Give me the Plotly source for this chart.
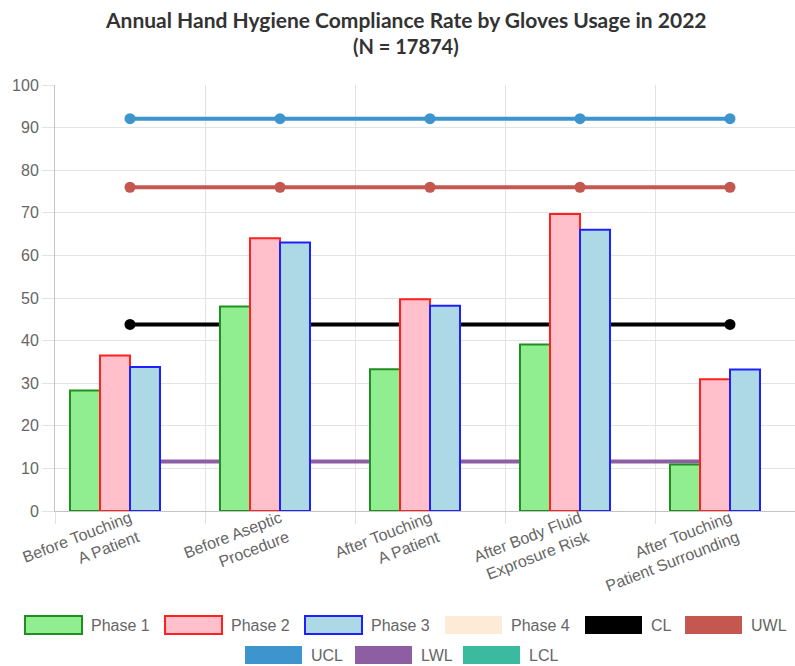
import plotly.graph_objects as go

# ---------------- data ----------------
categories = [
    "Before Touching<br>A Patient",
    "Before Aseptic<br>Procedure",
    "After Touching<br>A Patient",
    "After Body Fluid<br>Exprosure Risk",
    "After Touching<br>Patient Surrounding",
]
phase1 = [28.3, 48.0, 33.3, 39.1, 10.9]
phase2 = [36.5, 64.0, 49.7, 69.7, 30.9]
phase3 = [33.8, 63.0, 48.2, 66.0, 33.2]
phase4 = [None, None, None, None, None]
cl = [43.8, 43.8, 43.8, 43.8, 43.8]
uwl = [76.0, 76.0, 76.0, 76.0, 76.0]
ucl = [92.1, 92.1, 92.1, 92.1, 92.1]
lwl = [11.6, 11.6, 11.6, 11.6, 11.6]
lcl = [-4.5, -4.5, -4.5, -4.5, -4.5]
y_ticks = [0, 10, 20, 30, 40, 50, 60, 70, 80, 90, 100]

title_lines = ["Annual Hand Hygiene Compliance Rate by Gloves Usage in 2022", "(N = 17874)"]

# ---------------- styles ----------------
bar_series = [
    ("Phase 1", phase1, "#90EE90", "#1f8f1f"),
    ("Phase 2", phase2, "#FFC0CB", "#FF2020"),
    ("Phase 3", phase3, "#ADD8E6", "#2020FF"),
    ("Phase 4", phase4, "#FDEBD8", "#FDEBD8"),
]
line_series = [
    ("CL", cl, "#000000"),
    ("UWL", uwl, "#c45850"),
    ("UCL", ucl, "#3e95cd"),
    ("LWL", lwl, "#8e5ea2"),
    ("LCL", lcl, "#3cba9f"),
]

FONT = "Liberation Sans, Arial, Helvetica, sans-serif"
W, H = 795, 666
ML, MR, MT, MB = 55, 0, 85, 155
CAT_PX = 150.0
plot_w = W - ML - MR
plot_h = H - MT - MB
x_pos = list(range(len(categories)))
x_range = [-0.5, -0.5 + plot_w / CAT_PX]
y_range = [0, 100]

fig = go.Figure()

# control lines on the base axes (drawn first, i.e. below the bars)
for name, vals, color in line_series:
    fig.add_trace(go.Scatter(
        x=x_pos, y=vals, name=name, mode="lines+markers",
        line=dict(color=color, width=4),
        marker=dict(color=color, size=11),
        showlegend=False, cliponaxis=True,
    ))

# bars on an overlaid pair of axes so they sit above the lines
for name, vals, fill, border in bar_series:
    fig.add_trace(go.Bar(
        x=x_pos, y=vals, name=name, xaxis="x2", yaxis="y2",
        marker=dict(color=fill, line=dict(color=border, width=2 if name != "Phase 4" else 0)),
        showlegend=False,
    ))

# ---------------- custom legend (Chart.js-like wide swatches) ----------------
def px_x(px):
    return (px - ML) / plot_w

def px_y(py):
    return (H - MB - py) / plot_h

legend_items = [(n, f, b, 2 if n != "Phase 4" else 0) for n, _, f, b in bar_series] + \
               [(n, c, c, 0) for n, _, c in line_series]
legend_left = [25, 165, 305, 445, 585, 685, 245, 355, 463]
legend_row = [625, 625, 625, 625, 625, 625, 655, 655, 655]
BOX_W, BOX_H = 57, 18

shapes = []
annotations = []
for (name, fill, border, bw), lx, cy in zip(legend_items, legend_left, legend_row):
    shapes.append(dict(
        type="rect", xref="paper", yref="paper",
        x0=px_x(lx), x1=px_x(lx + BOX_W),
        y0=px_y(cy - BOX_H / 2), y1=px_y(cy + BOX_H / 2),
        fillcolor=fill,
        line=dict(color=border, width=bw),
        layer="above",
    ))
    annotations.append(dict(
        text=name, xref="paper", yref="paper",
        x=px_x(lx + BOX_W + 7), y=px_y(cy),
        xanchor="left", yanchor="middle", showarrow=False,
        font=dict(family=FONT, size=16, color="#666666"),
    ))

# title lines
for line, cy, fs in zip(title_lines, [20, 46], [21, 20]):
    annotations.append(dict(
        text="<b>" + line + "</b>", xref="paper", yref="paper",
        x=px_x(406), y=px_y(cy), xanchor="center", yanchor="middle",
        showarrow=False,
        font=dict(family="Lato, sans-serif", size=fs, color="#333333"),
    ))

fig.update_layout(
    width=W, height=H,
    margin=dict(l=ML, r=MR, t=MT, b=MB),
    paper_bgcolor="white", plot_bgcolor="white",
    barmode="group", bargap=0.2, bargroupgap=0.0,
    showlegend=False,
    shapes=shapes,
    annotations=annotations,
    xaxis2=dict(overlaying="x", range=x_range, visible=False),
    yaxis2=dict(overlaying="y", range=y_range, visible=False),
)

fig.layout.xaxis.update(
    range=x_range,
    tickmode="array", tickvals=x_pos, ticktext=categories,
    tickangle=-21,
    tickfont=dict(family=FONT, size=16, color="#666666"),
    ticks="", ticklabelstandoff=-9,
    showgrid=False, zeroline=False,
    showline=True, linecolor="#c4c4c4", linewidth=1,
    minor=dict(
        tickmode="array",
        tickvals=[i - 0.5 for i in range(len(categories) + 1)],
        ticks="outside", ticklen=12, tickcolor="#e3e3e3", tickwidth=1,
        showgrid=True, gridcolor="#e3e3e3", gridwidth=1,
    ),
)

fig.layout.yaxis.update(
    range=y_range,
    tickmode="array", tickvals=y_ticks,
    tickfont=dict(family=FONT, size=16, color="#666666"),
    ticks="outside", ticklen=12, tickcolor="#e3e3e3",
    showgrid=True, gridcolor="#e3e3e3", gridwidth=1,
    zeroline=False,
    showline=True, linecolor="#c4c4c4", linewidth=1,
)

fig.write_html(
    "out.html",
    config={"displayModeBar": False},
    post_script="document.body.style.margin='0';",
)
